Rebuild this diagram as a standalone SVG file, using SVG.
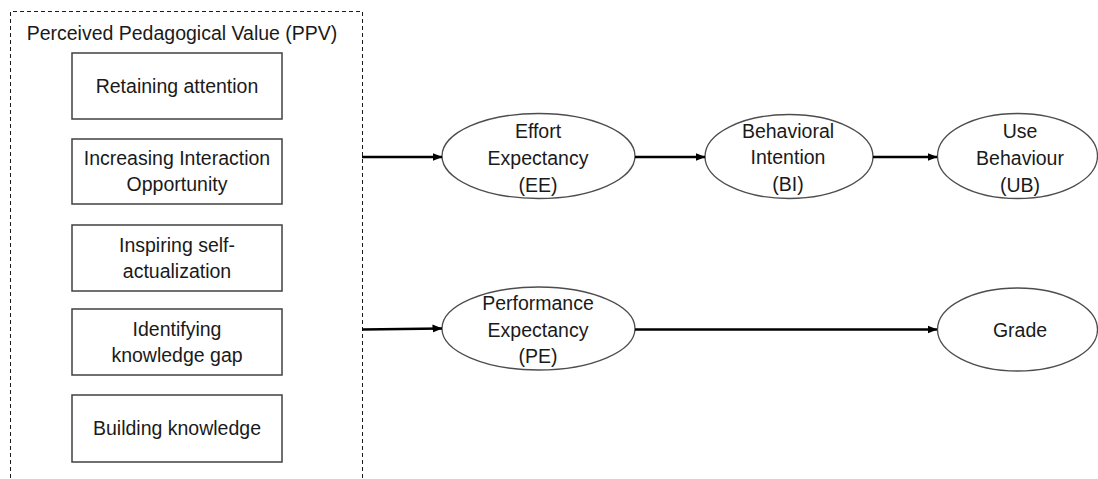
<svg xmlns="http://www.w3.org/2000/svg" width="1098" height="479" viewBox="0 0 1098 479">
<style>
  text { font-family: "Liberation Sans", Arial, sans-serif; font-size: 19.5px; fill: #1a1a1a; text-anchor: middle; }
  .box { fill: #ffffff; stroke: #404040; stroke-width: 1.5; }
  .ell { fill: #ffffff; stroke: #4d4d4d; stroke-width: 1.3; }
  .frame { fill: none; stroke: #1a1a1a; stroke-width: 1; stroke-dasharray: 4 3; }
  .conn { fill: none; stroke: #000000; stroke-width: 2.5; marker-end: url(#arrow); }
</style>
<defs>
  <marker id="arrow" markerWidth="10" markerHeight="9" refX="9.5" refY="4.5" orient="auto" markerUnits="userSpaceOnUse">
    <path d="M0,0.5 L10,4.5 L0,8.5 Z" fill="#000000"/>
  </marker>
</defs>
<rect width="1098" height="479" fill="#ffffff"/>

<g id="ppv">
  <path class="frame" d="M10.5,485 V11.5 H362.5 V485"/>
  <text x="182" y="40">Perceived Pedagogical Value (PPV)</text>
</g>
<g id="retaining">
  <rect class="box" x="72" y="53" width="210" height="66"/>
  <text x="177" y="93">Retaining attention</text>
</g>
<g id="interaction">
  <rect class="box" x="72" y="139" width="210" height="65"/>
  <text x="177" y="165">Increasing Interaction</text>
  <text x="177" y="191">Opportunity</text>
</g>
<g id="selfact">
  <rect class="box" x="72" y="225" width="210" height="66"/>
  <text x="177" y="252">Inspiring self-</text>
  <text x="177" y="278">actualization</text>
</g>
<g id="gap">
  <rect class="box" x="72" y="309" width="210" height="66"/>
  <text x="177" y="336">Identifying</text>
  <text x="177" y="362">knowledge gap</text>
</g>
<g id="building">
  <rect class="box" x="72" y="395" width="210" height="67"/>
  <text x="177" y="435">Building knowledge</text>
</g>

<g id="ee">
  <ellipse class="ell" cx="538.5" cy="156" rx="96.5" ry="42.5"/>
  <text x="538" y="138">Effort</text>
  <text x="538" y="165">Expectancy</text>
  <text x="538" y="192">(EE)</text>
</g>
<g id="bi">
  <ellipse class="ell" cx="789" cy="156.5" rx="84" ry="42"/>
  <text x="788" y="138">Behavioral</text>
  <text x="788" y="164">Intention</text>
  <text x="788" y="191">(BI)</text>
</g>
<g id="ub">
  <ellipse class="ell" cx="1017.5" cy="156" rx="80" ry="42.5"/>
  <text x="1020" y="138">Use</text>
  <text x="1020" y="165">Behaviour</text>
  <text x="1020" y="192">(UB)</text>
</g>
<g id="pe">
  <ellipse class="ell" cx="538.5" cy="328.5" rx="96.5" ry="41.5"/>
  <text x="538" y="310">Performance</text>
  <text x="538" y="337">Expectancy</text>
  <text x="538" y="363">(PE)</text>
</g>
<g id="grade">
  <ellipse class="ell" cx="1017.5" cy="329.5" rx="80" ry="41.5"/>
  <text x="1020" y="337">Grade</text>
</g>

<g id="connectors">
  <line class="conn" x1="362" y1="157" x2="442" y2="157"/>
  <line class="conn" x1="635" y1="157" x2="705" y2="157"/>
  <line class="conn" x1="873" y1="157" x2="937" y2="157"/>
  <line class="conn" x1="362" y1="329.5" x2="442" y2="328.5"/>
  <line class="conn" x1="635" y1="329.5" x2="937" y2="329.5"/>
</g>
</svg>
